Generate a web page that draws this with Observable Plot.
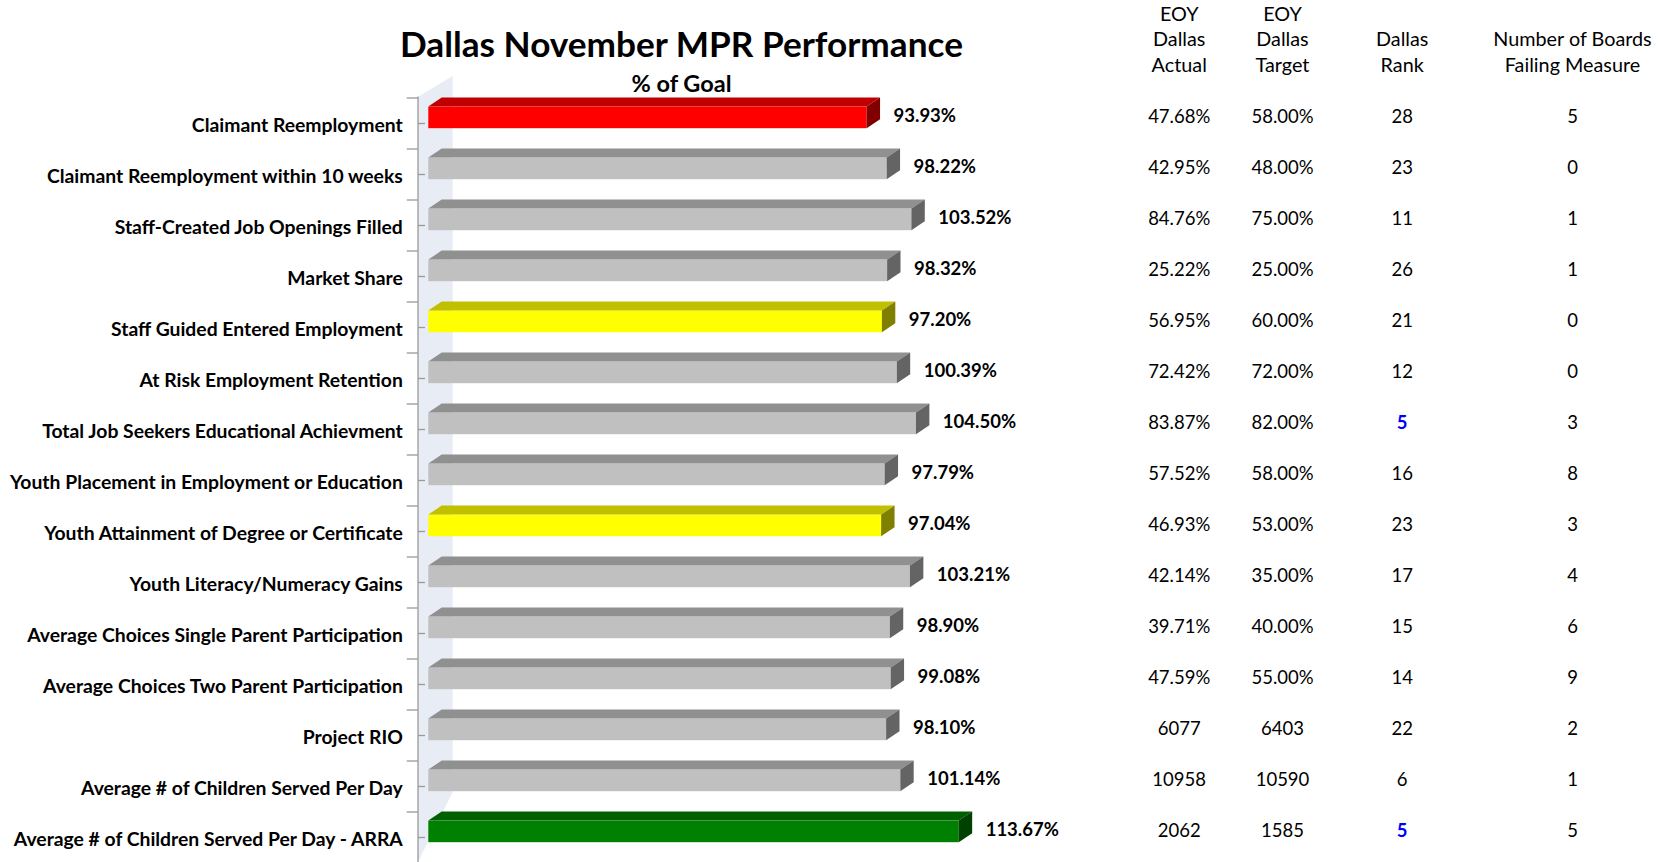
<!DOCTYPE html>
<html>
<head>
<meta charset="utf-8">
<script src="https://cdn.jsdelivr.net/npm/d3@7"></script>
<script src="https://cdn.jsdelivr.net/npm/@observablehq/plot@0.6"></script>
<style>
  html, body { margin: 0; padding: 0; background: #fff; }
  #chart { width: 1660px; height: 862px; overflow: hidden; }
</style>
</head>
<body>
<div id="chart"></div>
<script>
// ---- data ----
const categories = [
  "Claimant Reemployment",
  "Claimant Reemployment within 10 weeks",
  "Staff-Created Job Openings Filled",
  "Market Share",
  "Staff Guided Entered Employment",
  "At Risk Employment Retention",
  "Total Job Seekers Educational Achievment",
  "Youth Placement in Employment or Education",
  "Youth Attainment of Degree or Certificate",
  "Youth Literacy/Numeracy Gains",
  "Average Choices Single Parent Participation",
  "Average Choices Two Parent Participation",
  "Project RIO",
  "Average # of Children Served Per Day",
  "Average # of Children Served Per Day - ARRA"
];
const pctGoal = [93.93, 98.22, 103.52, 98.32, 97.20, 100.39, 104.50, 97.79, 97.04, 103.21, 98.90, 99.08, 98.10, 101.14, 113.67];
const status = ["red", "gray", "gray", "gray", "yellow", "gray", "gray", "gray", "yellow", "gray", "gray", "gray", "gray", "gray", "green"];
const eoyActual = ["47.68%", "42.95%", "84.76%", "25.22%", "56.95%", "72.42%", "83.87%", "57.52%", "46.93%", "42.14%", "39.71%", "47.59%", "6077", "10958", "2062"];
const eoyTarget = ["58.00%", "48.00%", "75.00%", "25.00%", "60.00%", "72.00%", "82.00%", "58.00%", "53.00%", "35.00%", "40.00%", "55.00%", "6403", "10590", "1585"];
const dallasRank = [28, 23, 11, 26, 21, 12, 5, 16, 23, 17, 15, 14, 22, 6, 5];
const boardsFailing = [5, 0, 1, 1, 0, 0, 3, 8, 3, 4, 6, 9, 2, 1, 5];
const headers = ["EOY\nDallas\nActual", "EOY\nDallas\nTarget", "Dallas\nRank", "Number of Boards\nFailing Measure"];
const titleText = "Dallas November MPR Performance";
const subtitleText = "% of Goal";

// ---- styling ----
const palette = {
  red:    {front: "#FF0000", top: "#C00000", side: "#800000"},
  gray:   {front: "#C0C0C0", top: "#909090", side: "#646464"},
  yellow: {front: "#FFFF00", top: "#C0C000", side: "#808000"},
  green:  {front: "#008000", top: "#006000", side: "#004000"}
};
const FONT = "Lato, 'Open Sans', sans-serif";
const INSET_TOP = 8.6, INSET_BOTTOM = 20.8;
const DEPTH_X = 13.4, DEPTH_Y = 9;
const colCenters = [1178.7, 1282, 1401.7, 1572];

const rows = categories.map((c, i) => ({
  category: c, pct: pctGoal[i], status: status[i],
  actual: eoyActual[i], target: eoyTarget[i], rank: dallasRank[i], boards: boardsFailing[i]
}));

// back wall, axis line and ticks
function wallAndAxis(index, scales, values, dims) {
  const g = d3.create("svg:g");
  const x0 = scales.x(0);
  const axisX = x0 - 10.3;
  const wallR = axisX + 34.7;
  const [r0, r1] = scales.y.range();
  const bw = scales.y.bandwidth ? scales.y.bandwidth() : (r1 - r0) / categories.length;
  const H = dims.height;
  g.append("polygon")
    .attr("points", [[axisX, r0 + 0.3], [wallR, r0 - 20.4], [wallR, H - 70], [axisX, H]].join(" "))
    .attr("fill", "#E8ECF4");
  g.append("line").attr("x1", axisX).attr("x2", axisX).attr("y1", r0).attr("y2", H)
    .attr("stroke", "#9A9A9A").attr("stroke-width", 1.3);
  categories.forEach(c => {
    const yb = scales.y(c);
    g.append("line").attr("x1", axisX - 11.3).attr("x2", axisX).attr("y1", yb).attr("y2", yb)
      .attr("stroke", "#9A9A9A").attr("stroke-width", 1.3);
    g.append("line").attr("x1", axisX).attr("x2", axisX + 7).attr("y1", yb + bw / 2).attr("y2", yb + bw / 2)
      .attr("stroke", "#9A9A9A").attr("stroke-width", 1.3);
  });
  return g.node();
}

// 3D top and side faces of each bar
function barFaces(index, scales, values, dims) {
  const g = d3.create("svg:g");
  const bw = scales.y.bandwidth();
  rows.forEach(r => {
    const x0 = scales.x(0), x1 = scales.x(r.pct);
    const yt = scales.y(r.category) + INSET_TOP;
    const yb = scales.y(r.category) + bw - INSET_BOTTOM;
    const p = palette[r.status];
    g.append("polygon")
      .attr("points", [[x0, yt], [x1, yt], [x1 + DEPTH_X, yt - DEPTH_Y], [x0 + DEPTH_X, yt - DEPTH_Y]].join(" "))
      .attr("fill", p.top);
    g.append("polygon")
      .attr("points", [[x1, yt], [x1 + DEPTH_X, yt - DEPTH_Y], [x1 + DEPTH_X, yb - DEPTH_Y], [x1, yb]].join(" "))
      .attr("fill", p.side);
  });
  return g.node();
}

const plainCols = [
  {key: "actual", i: 0},
  {key: "target", i: 1},
  {key: "boards", i: 3}
];

const chart = Plot.plot({
  width: 1660,
  height: 862,
  margin: 0,
  style: {fontFamily: FONT, fontSize: "16px", background: "#fff", overflow: "visible", color: "#000"},
  x: {domain: [0, 120], range: [428.3, 988.3], axis: null},
  y: {type: "band", domain: categories, range: [96.4, 863.6], padding: 0, axis: null},
  marks: [
    wallAndAxis,
    Plot.barX(rows, {
      x1: 0, x2: "pct", y: "category",
      fill: d => palette[d.status].front,
      insetTop: INSET_TOP, insetBottom: INSET_BOTTOM
    }),
    barFaces,
    // category labels
    Plot.text(rows, {
      x: 0, y: "category", text: "category", textAnchor: "end",
      dx: -26, dy: 1.5, fontWeight: "bold", fontSize: 19.35, fill: "#000"
    }),
    // value labels
    Plot.text(rows, {
      x: "pct", y: "category", text: d => d.pct.toFixed(2) + "%", textAnchor: "start",
      dx: DEPTH_X + 13, dy: -7.5, fontWeight: "bold", fontSize: 18.5, fill: "#000"
    }),
    // title & subtitle
    Plot.text([titleText], {
      frameAnchor: "top-left", dx: 681, dy: 45, textAnchor: "middle", lineAnchor: "middle",
      fontWeight: "bold", fontSize: 35.2, fill: "#000"
    }),
    Plot.text([subtitleText], {
      frameAnchor: "top-left", dx: 681, dy: 83.5, textAnchor: "middle", lineAnchor: "middle",
      fontWeight: "bold", fontSize: 23.5, fill: "#000"
    }),
    // table headers
    ...headers.map((h, j) => Plot.text([h], {
      frameAnchor: "top-left", dx: colCenters[j], dy: 71.5, textAnchor: "middle",
      lineAnchor: "bottom", lineHeight: 1.3, fontSize: 19.8, fill: "#000"
    })),
    // table values
    ...plainCols.map(col => Plot.text(rows, {
      frameAnchor: "left", y: "category", text: d => String(d[col.key]),
      dx: colCenters[col.i], dy: -7, textAnchor: "middle", fontSize: 18.5, fill: "#000"
    })),
    // rank column: top-5 ranks highlighted
    Plot.text(rows.filter(d => d.rank > 5), {
      frameAnchor: "left", y: "category", text: d => String(d.rank),
      dx: colCenters[2], dy: -7, textAnchor: "middle", fontSize: 18.5, fill: "#000"
    }),
    Plot.text(rows.filter(d => d.rank <= 5), {
      frameAnchor: "left", y: "category", text: d => String(d.rank),
      dx: colCenters[2], dy: -7, textAnchor: "middle", fontSize: 18.5, fontWeight: "bold", fill: "#0000FF"
    })
  ]
});

document.getElementById("chart").appendChild(chart);
</script>
</body>
</html>
